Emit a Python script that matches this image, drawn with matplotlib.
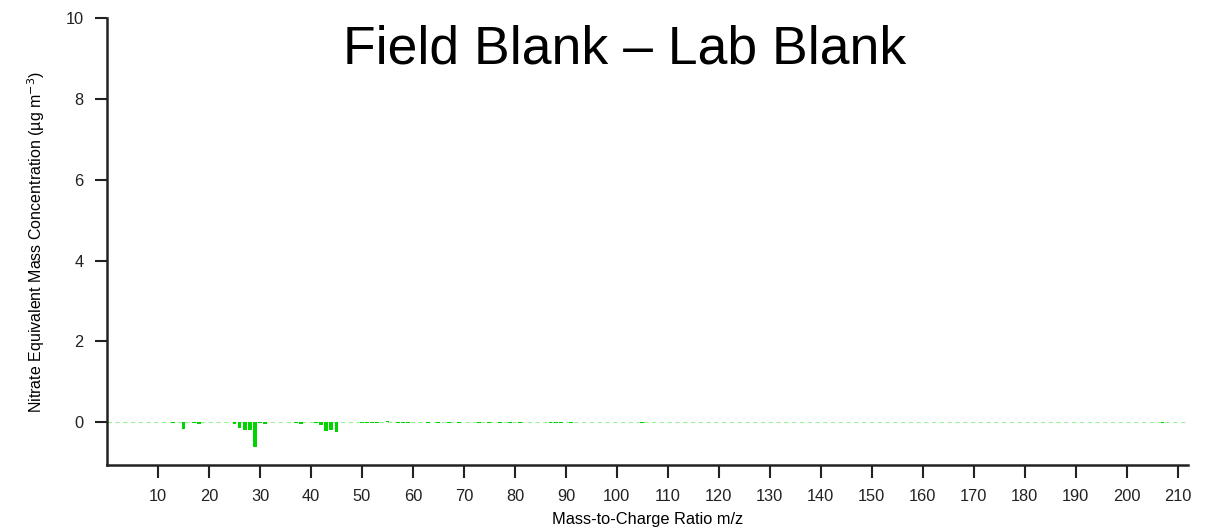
import matplotlib
matplotlib.use("Agg")
import matplotlib.pyplot as plt
import numpy as np

plt.rcParams['font.family'] = ['Liberation Sans', 'DejaVu Sans']

# difference spectrum (field blank minus lab blank), ug m^-3
mz = [13, 15, 17, 18, 25, 26, 27, 28, 29, 30, 31, 37, 38, 41, 42, 43, 44, 45,
      50, 51, 52, 53, 55, 57, 58, 59, 63, 65, 67, 69, 73, 75, 77, 79, 81,
      87, 88, 89, 91, 105, 207]
diff = [-0.02, -0.17, -0.01, -0.05, -0.04, -0.15, -0.2, -0.2, -0.62, -0.01, -0.05,
        -0.02, -0.05, -0.01, -0.07, -0.22, -0.2, -0.25,
        -0.01, -0.01, -0.01, -0.01, 0.03, -0.01, -0.03, -0.03, -0.01, -0.01, -0.01,
        -0.01, -0.01, -0.01, -0.02, -0.01, -0.01,
        -0.01, -0.01, -0.01, -0.01, -0.02, -0.01]

xticks = list(range(10, 211, 10))
yticks = [0, 2, 4, 6, 8, 10]

fig = plt.figure(figsize=(12.2, 5.28), dpi=100)
ax = fig.add_axes([0.0877, 0.1193, 0.886, 0.8466])

ax.axhline(0, color='#9cf09c', lw=0.8, ls=(0, (4, 3)), zorder=1)
ax.bar(mz, diff, width=0.75, color='#00d400', zorder=2)

ax.set_xlim(0, 212)
ax.set_ylim(-1.06, 10)
ax.set_xticks(xticks)
ax.set_yticks(yticks)
ax.tick_params(direction='out', length=9, width=1.5, labelsize=11.8, colors='#222222', pad=8)

for s in ['top', 'right']:
    ax.spines[s].set_visible(False)
for s in ['left', 'bottom']:
    ax.spines[s].set_linewidth(1.8)
    ax.spines[s].set_color('#222222')

ax.set_xlabel('Mass-to-Charge Ratio m/z', fontsize=11.8, labelpad=6)
ax.set_ylabel('Nitrate Equivalent Mass Concentration (µg m$^{-3}$)', fontsize=11.5, labelpad=13)

fig.text(0.512, 0.906, 'Field Blank – Lab Blank', fontsize=38.5, ha='center', va='center')

fig.savefig('out.png', dpi=100)
